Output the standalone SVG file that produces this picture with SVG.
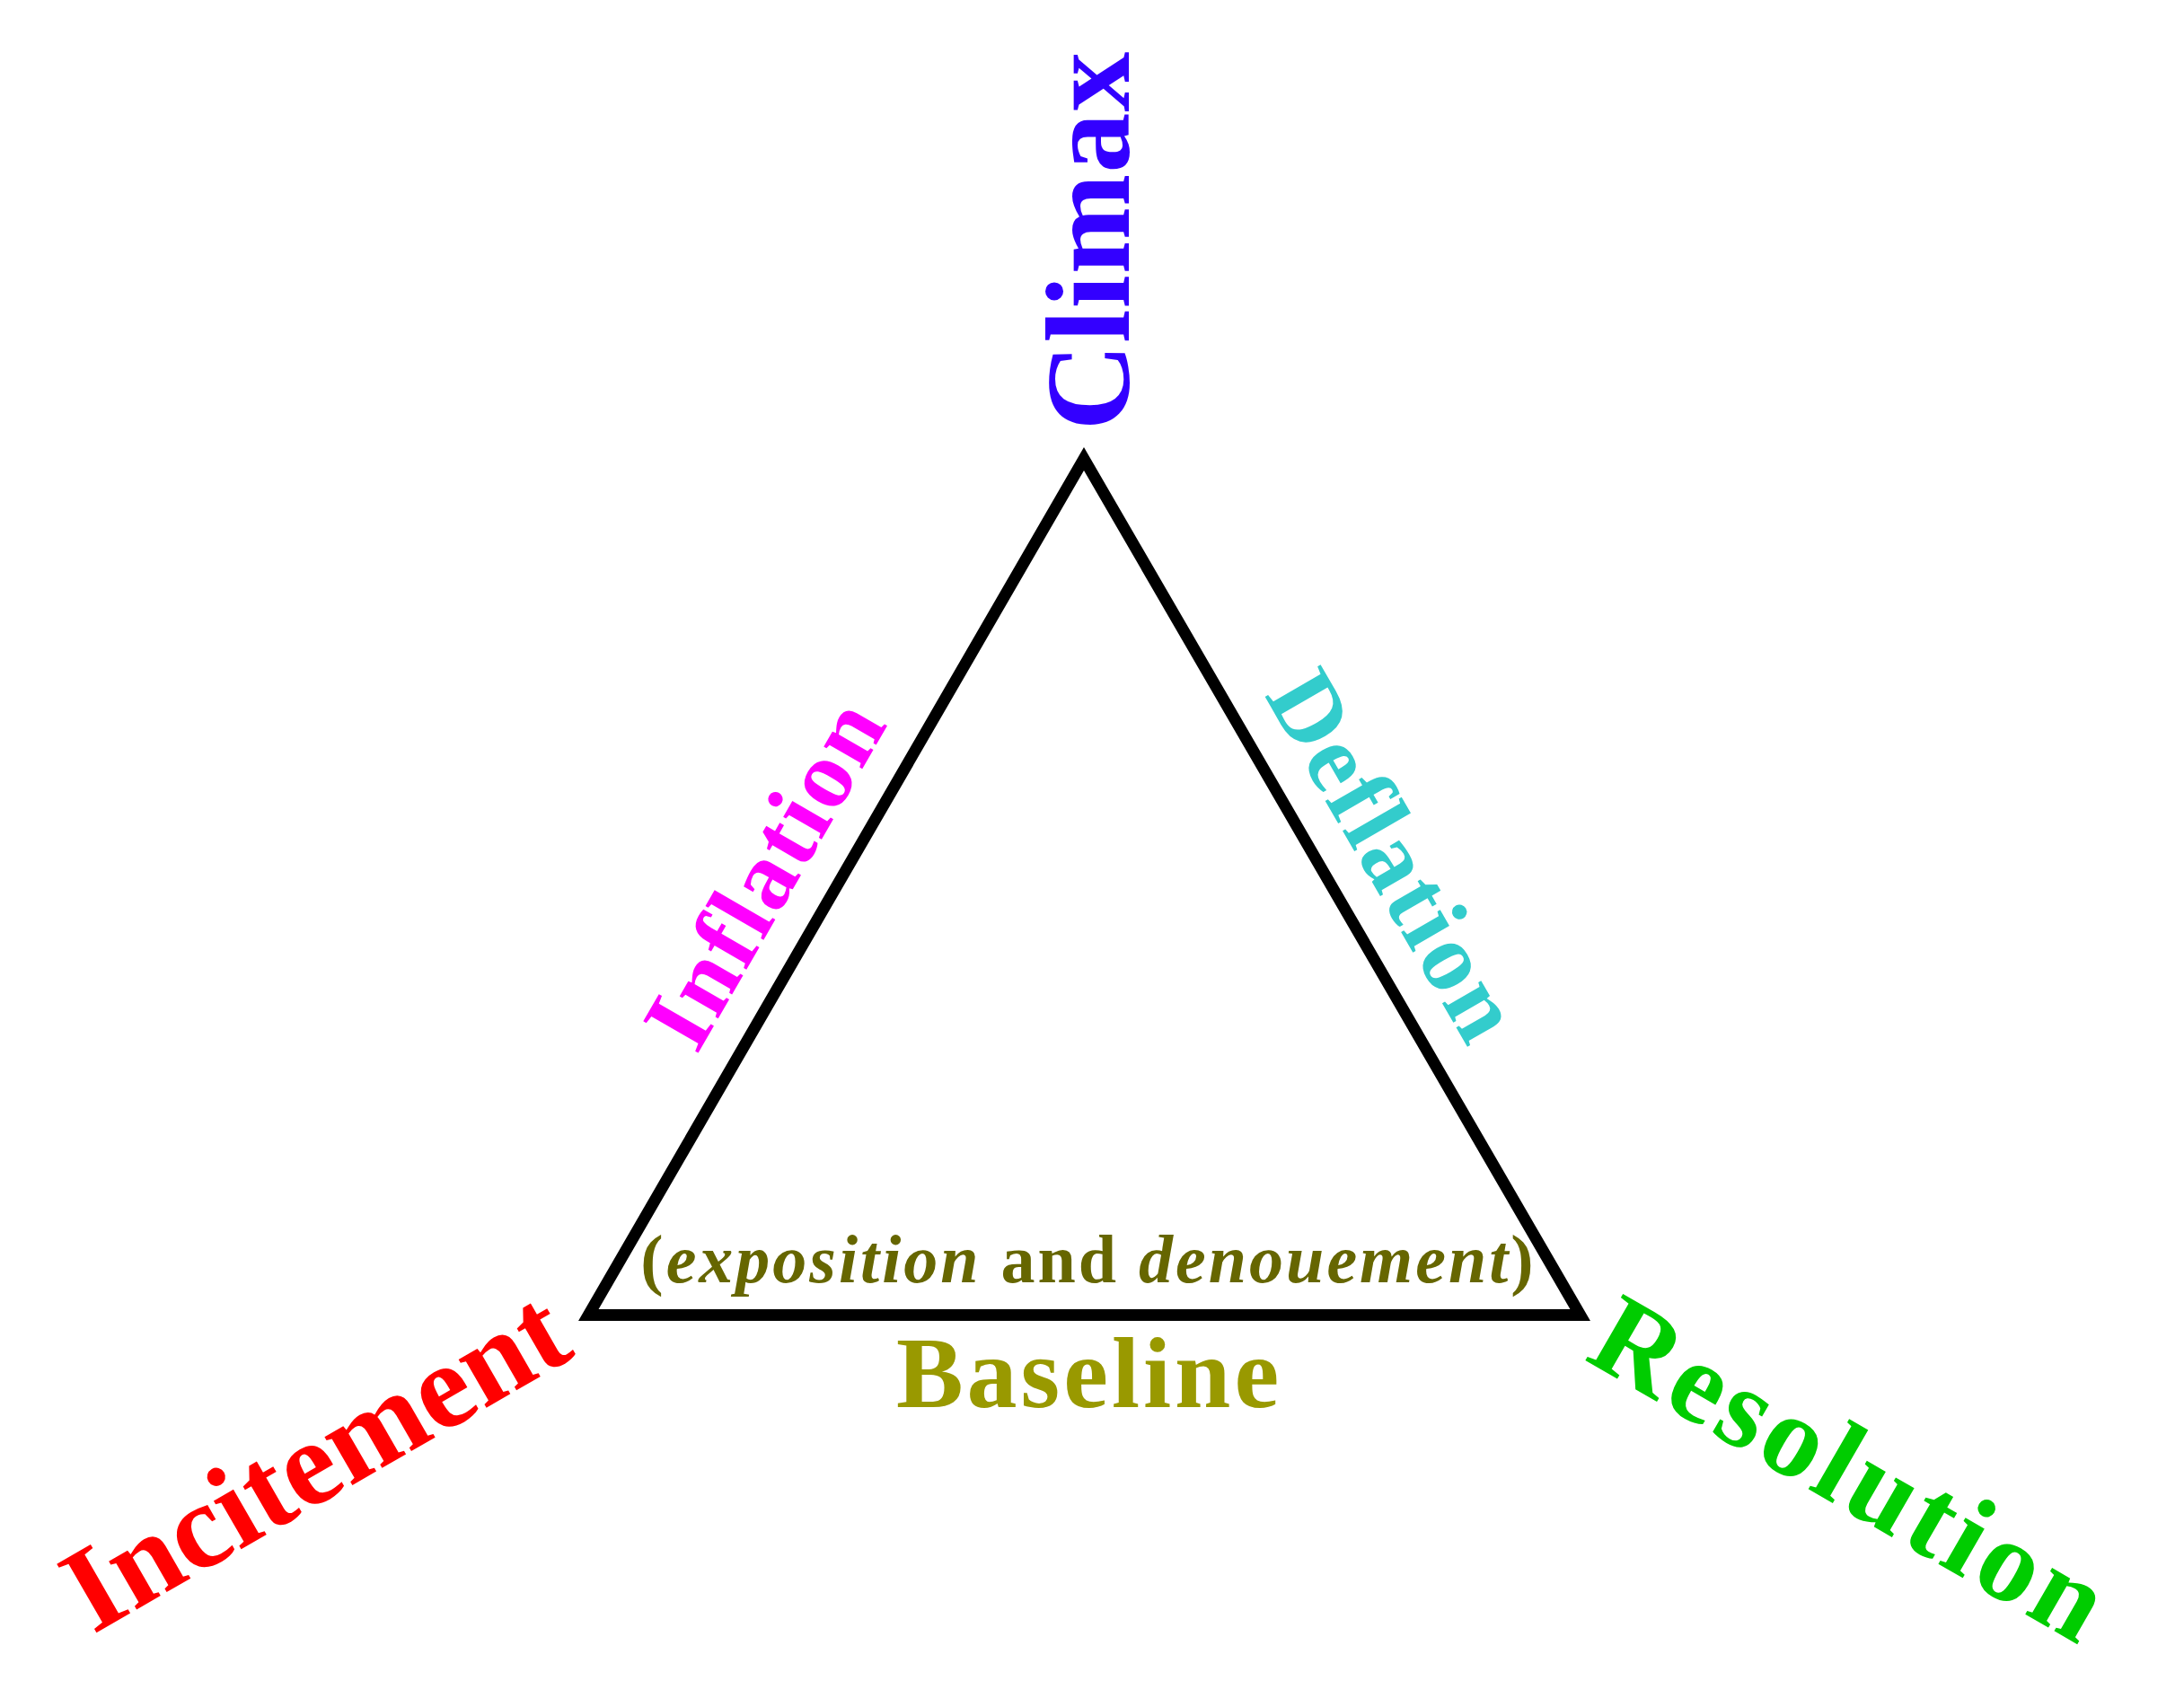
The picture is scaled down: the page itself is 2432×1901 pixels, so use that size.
<svg xmlns="http://www.w3.org/2000/svg" width="2432" height="1901" viewBox="0 0 2432 1901">
<style>
.t{font-family:"Liberation Serif","Times New Roman",serif;text-anchor:middle}
.b{font-weight:bold}
.edge{fill:none;stroke:#000;stroke-width:13;stroke-linejoin:miter;stroke-miterlimit:10}
</style>
<rect width="2432" height="1901" fill="#fff"/>
<g id="connectors">
<polygon class="edge" points="1207,511 1759.7,1464.5 655.3,1464.5"/>
</g>
<g id="climax">
<text class="t b" transform="translate(1257,268) rotate(-90)" font-size="134" letter-spacing="1" fill="#3300ff">Climax</text>
</g>
<g id="incitement">
<text class="t b" transform="translate(373,1665) rotate(-30)" font-size="135" fill="#ff0000">Incitement</text>
</g>
<g id="resolution">
<text class="t b" transform="translate(2041,1674) rotate(30)" font-size="130" letter-spacing="5" fill="#00cc00">Resolution</text>
</g>
<g id="inflation">
<text class="t b" transform="translate(883,990) rotate(-60)" font-size="108" letter-spacing="3" fill="#ff00ff">Inflation</text>
</g>
<g id="deflation">
<text class="t b" transform="translate(1522,972) rotate(60)" font-size="109" letter-spacing="3" fill="#33cccc">Deflation</text>
</g>
<g id="baseline">
<text class="t b" x="1213" y="1567" font-size="112" letter-spacing="4" fill="#999900">Baseline</text>
<text class="t b" x="1212" y="1428" font-size="76" letter-spacing="3" fill="#666600">(<tspan font-style="italic">exposition</tspan> and <tspan font-style="italic">denouement</tspan>)</text>
</g>
</svg>
